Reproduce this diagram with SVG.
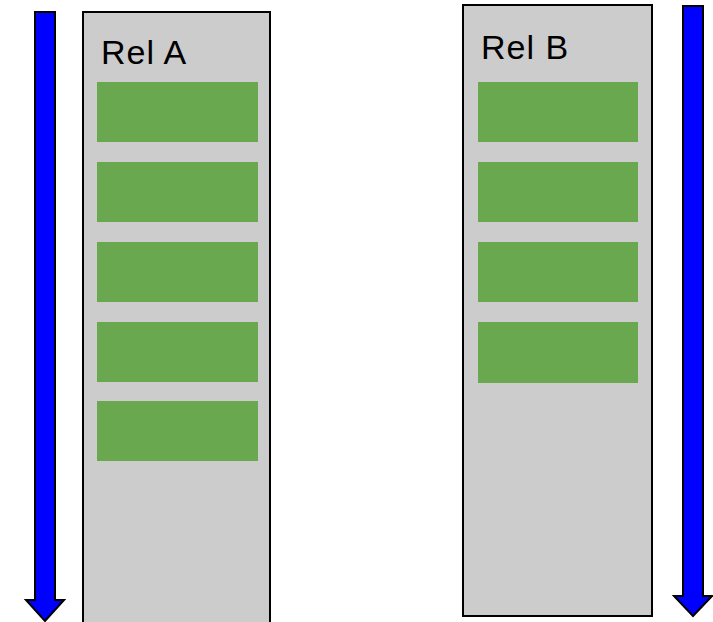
<svg xmlns="http://www.w3.org/2000/svg" width="713" height="622" viewBox="0 0 713 622">
<style>
.rel{fill:#cccccc;stroke:#000;stroke-width:2}
.tup{fill:#6aa84f}
.arr{fill:#0000ff;stroke:#000;stroke-width:2;stroke-linejoin:miter}
.lbl{font-family:"Liberation Sans",Arial,sans-serif;font-size:34px;letter-spacing:1px;fill:#000}
</style>
<rect width="713" height="622" fill="#fff"/>
<g id="connectors">
<path class="arr" d="M35,12 H55 V600 H64 L45,621 L26,600 H35 Z"/>
<path class="arr" d="M683,6 H703 V596 H712 L693,616 L674,596 H683 Z"/>
</g>
<g id="relA">
<rect class="rel" x="83" y="12" width="187" height="620"/>
<text class="lbl" x="101" y="64">Rel A</text>
<rect class="tup" x="97" y="82" width="161" height="60"/>
<rect class="tup" x="97" y="162" width="161" height="60"/>
<rect class="tup" x="97" y="242" width="161" height="60"/>
<rect class="tup" x="97" y="322" width="161" height="60"/>
<rect class="tup" x="97" y="401" width="161" height="60"/>
</g>
<g id="relB">
<rect class="rel" x="463" y="5" width="189" height="611"/>
<text class="lbl" x="481" y="59">Rel B</text>
<rect class="tup" x="478" y="82" width="160" height="60"/>
<rect class="tup" x="478" y="162" width="160" height="60"/>
<rect class="tup" x="478" y="242" width="160" height="60"/>
<rect class="tup" x="478" y="322" width="160" height="61"/>
</g>
</svg>
